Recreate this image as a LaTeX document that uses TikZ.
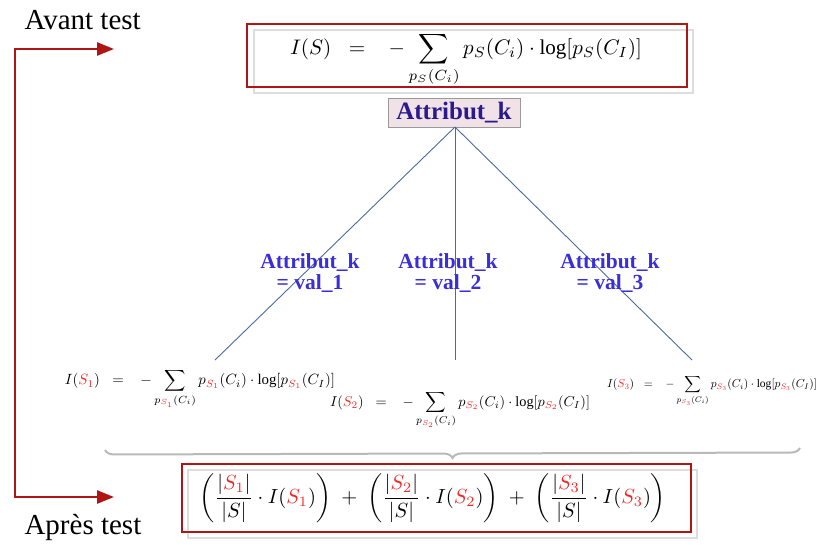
\documentclass[tikz,border=0pt]{standalone}
\usepackage{graphicx}
\usepackage{amsmath}
\usepackage{fontspec}
\setmainfont{Liberation Serif}
\usetikzlibrary{arrows.meta,decorations.pathreplacing}
\definecolor{arrred}{HTML}{B01515}
\definecolor{boxred}{HTML}{B01515}
\definecolor{shadowgray}{HTML}{DDDDDD}
\definecolor{linkblue}{HTML}{4A6A9E}
\definecolor{lblblue}{HTML}{3A2ED6}
\definecolor{navy}{HTML}{2A1A8C}
\definecolor{pinkfill}{HTML}{F0E2E6}
\definecolor{sred}{HTML}{F02828}
\newcommand{\rs}[1]{{\color{sred}#1}}
\newcommand{\eqsp}{\;\;=\;\;\;}
\begin{document}
\begin{tikzpicture}[x=1pt,y=-1pt,
  redarrow/.style={draw=arrred,line width=2.6pt,-{Triangle[length=17pt,width=13pt]}},
  redbox/.style={draw=boxred,line width=1.2pt},
  shadowbox/.style={draw=shadowgray,line width=1.5pt},
  link/.style={draw=linkblue,line width=0.9pt},
  lbl/.style={text=lblblue,font=\fontsize{21.5}{21}\selectfont\bfseries,align=center},
  side/.style={font=\fontsize{29}{30}\selectfont,anchor=west}
]
\useasboundingbox (0,0) rectangle (818,544);

% side labels and arrow
\node[side] (avant) at (21,20) {Avant test};
\node[side] (apres) at (21,527) {Après test};
\coordinate (ctop) at (15,49);
\coordinate (cbot) at (15,497);
\coordinate (etop) at (114,49);
\coordinate (ebot) at (114,497);
\draw[redarrow] (cbot) -- (ctop) -- (etop);
\draw[redarrow] (ctop) -- (cbot) -- (ebot);

% top formula
\draw[shadowbox] (254,30) rectangle (693,93);
\draw[redbox] (247,24) rectangle (687,87);
\node (ftop) at (466,59) {\resizebox{352pt}{!}{$\displaystyle I(S)\eqsp-\sum_{p_S(C_i)} p_S(C_i)\cdot\log[p_S(C_I)]$}};

% attribute node
\node[draw=gray!80,fill=pinkfill,line width=0.8pt,text=navy,font=\fontsize{25}{26}\selectfont\bfseries,
  minimum width=132pt,minimum height=29pt,inner sep=0pt] (attr) at (454,112.5) {Attribut\_k};

% branches
\coordinate (root) at (455,127);
\coordinate (b1) at (215,360);
\coordinate (b2) at (455,360);
\coordinate (b3) at (692,360);
\draw[link] (root) -- (b1);
\draw[link] (root) -- (b2);
\draw[link] (root) -- (b3);

\node[lbl] (l1) at (310,273) {Attribut\_k\\= val\_1};
\node[lbl] (l2) at (448,273) {Attribut\_k\\= val\_2};
\node[lbl] (l3) at (610,273) {Attribut\_k\\= val\_3};

% child formulas
\node (f1) at (200,389) {\resizebox{270pt}{!}{$\displaystyle I(\rs{S_1})\eqsp-\sum_{p_{\rs{S_1}}(C_i)} p_{\rs{S_1}}(C_i)\cdot\log[p_{\rs{S_1}}(C_I)]$}};
\node (f2) at (460,410) {\resizebox{260pt}{!}{$\displaystyle I(\rs{S_2})\eqsp-\sum_{p_{\rs{S_2}}(C_i)} p_{\rs{S_2}}(C_i)\cdot\log[p_{\rs{S_2}}(C_I)]$}};
\node (f3) at (712,391) {\resizebox{210pt}{!}{$\displaystyle I(\rs{S_3})\eqsp-\sum_{p_{\rs{S_3}}(C_i)} p_{\rs{S_3}}(C_i)\cdot\log[p_{\rs{S_3}}(C_I)]$}};

% brace
\coordinate (brl) at (105,450);
\coordinate (brr) at (800,448);
\draw[draw=gray!55,line width=2pt,decorate,decoration={brace,amplitude=9pt}] (brr) -- (brl);

% bottom formula
\draw[shadowbox] (188,470) rectangle (697,538);
\draw[redbox] (182,464) rectangle (691,532);
\node (fbot) at (433,498) {\resizebox{466pt}{!}{$\displaystyle \left(\frac{|\rs{S_1}|}{|S|}\cdot I(\rs{S_1})\right)\;+\;\left(\frac{|\rs{S_2}|}{|S|}\cdot I(\rs{S_2})\right)\;+\;\left(\frac{|\rs{S_3}|}{|S|}\cdot I(\rs{S_3})\right)$}};
\end{tikzpicture}
\end{document}
